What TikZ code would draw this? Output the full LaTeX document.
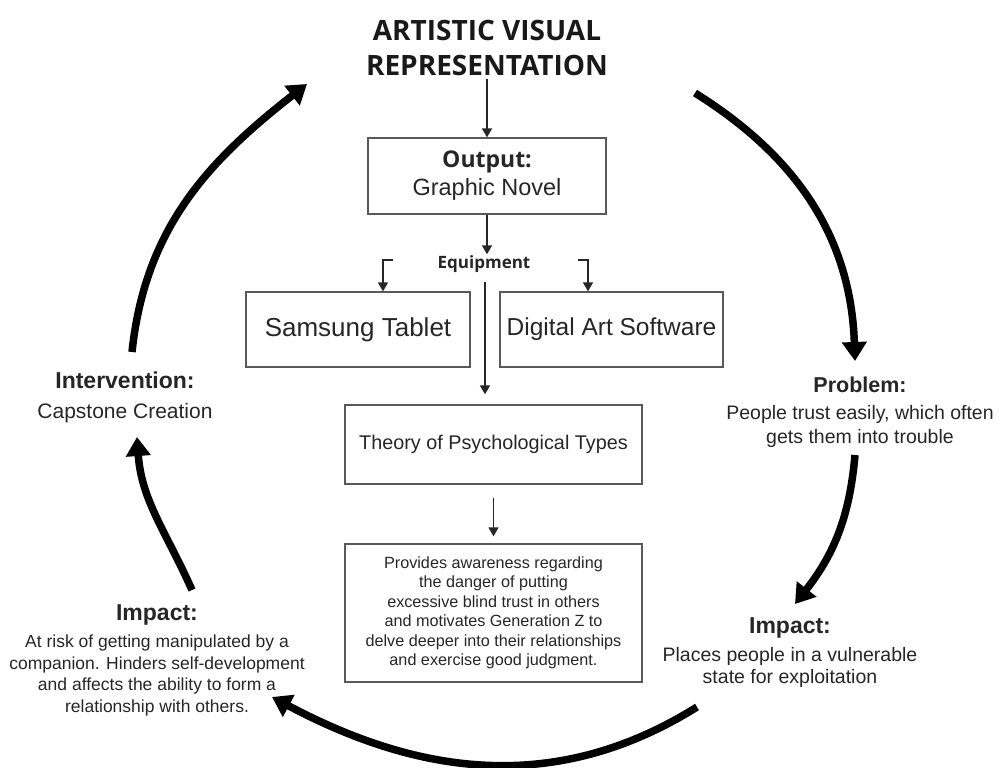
\documentclass[tikz,border=0pt]{standalone}
\usepackage{fontspec}
\setmainfont{Liberation Sans}
\newfontfamily\headfont{Open Sans}
\usetikzlibrary{arrows.meta}
\begin{document}
\begin{tikzpicture}[x=1pt,y=-1pt,
  box/.style={draw=black!65,line width=1.3pt,inner sep=0pt,text=black!85},
  lbl/.style={align=center,inner sep=0pt,text=black!85},
  thinarrow/.style={draw=black!85,line width=1.6pt,-{Triangle[width=10pt,length=9pt]}},
  thickarrow/.style={draw=black,line width=7.5pt,-{Triangle[width=24pt,length=19pt]}}
]
\useasboundingbox (0,0) rectangle (1001,768);
% title
\node[lbl,text=black!90,font=\headfont\bfseries\fontsize{28}{35}\selectfont] (title) at (487,48) {ARTISTIC VISUAL\\REPRESENTATION};
% output box
\node[box,minimum width=238pt,minimum height=76pt,align=center,font=\fontsize{23.5}{27}\selectfont] (output) at (487,176)
  {{\headfont\bfseries\fontsize{23}{30}\selectfont Output:}\\[1pt]Graphic Novel};
\node[lbl,font=\headfont\bfseries\fontsize{17}{20}\selectfont] (equip) at (484,264) {Equipment};
\node[box,minimum width=224pt,minimum height=75pt,font=\fontsize{26}{30}\selectfont] (samsung) at (358,329.5) {Samsung Tablet};
\node[box,minimum width=223pt,minimum height=75pt,font=\fontsize{24.5}{30}\selectfont] (digital) at (611.5,329.5) {Digital Art Software};
\node[box,minimum width=297pt,minimum height=79pt,font=\fontsize{19.8}{24}\selectfont] (theory) at (493.5,444.5) {Theory of Psychological Types};
\node[box,minimum width=297pt,minimum height=138pt,align=center,font=\fontsize{16.2}{19.5}\selectfont] (provides) at (493.5,613)
  {Provides awareness regarding\\the danger of putting\\excessive blind trust in others\\and motivates Generation Z to\\delve deeper into their relationships\\and exercise good judgment.};
% side labels
\node[lbl,font=\fontsize{21}{29}\selectfont] (interv) at (125,397) {{\bfseries\fontsize{23}{28}\selectfont Intervention:}\\[1pt]Capstone Creation};
\node[lbl,font=\fontsize{19.5}{24}\selectfont] (problem) at (860,412) {{\bfseries\fontsize{21.5}{26}\selectfont Problem:}\\[3pt]People trust easily, which often\\gets them into trouble};
\node[lbl,font=\fontsize{19.5}{22.5}\selectfont] (impactR) at (790,653) {{\bfseries\fontsize{23}{27}\selectfont Impact:}\\[5pt]Places people in a vulnerable\\state for exploitation};
\node[lbl,font=\fontsize{17.5}{21.5}\selectfont] (impactL) at (157,660) {{\bfseries\fontsize{23}{27}\selectfont Impact:}\\[6pt]At risk of getting manipulated by a\\companion. Hinders self-development\\and affects the ability to form a\\relationship with others.};
% thin arrows
\draw[thinarrow] (output.north |- title.south) ++(0,3) -- (output.north);
\draw[thinarrow,shorten >=1pt] (output.south) -- (output.south |- equip.north);
\coordinate (eL) at (393,260);
\coordinate (eR) at (578,260);
\draw[thinarrow] (eL) -| ([xshift=25pt]samsung.north);
\draw[thinarrow] (eR) -| ([xshift=-23.5pt]digital.north);
\draw[thinarrow,shorten <=9pt,shorten >=10pt] (equip.south -| 485,0) -- (theory.north -| 485,0);
\draw[thinarrow,shorten <=13pt,shorten >=7pt] (theory.south) -- (provides.north);
% thick cycle arrows
\coordinate (a1s) at (132,352); \coordinate (a1e) at (307,84);
\coordinate (a2s) at (695,93);  \coordinate (a2e) at (855,361);
\coordinate (a3s) at (855,455); \coordinate (a3e) at (795,604);
\coordinate (a4s) at (697,707); \coordinate (a4e) at (272,697);
\coordinate (a5s) at (192,590); \coordinate (a5e) at (137,437);
\draw[thickarrow] (a1s) to[out=84,in=218] (a1e);
\draw[thickarrow] (a2s) to[out=-32,in=92] (a2e);
\draw[thickarrow] (a3s) to[out=-95,in=52] (a3e);
\draw[thickarrow] (a4s) to[out=212,in=-28] (a4e);
\draw[thickarrow] (a5s) to[out=114,in=-86] (a5e);
\end{tikzpicture}
\end{document}
